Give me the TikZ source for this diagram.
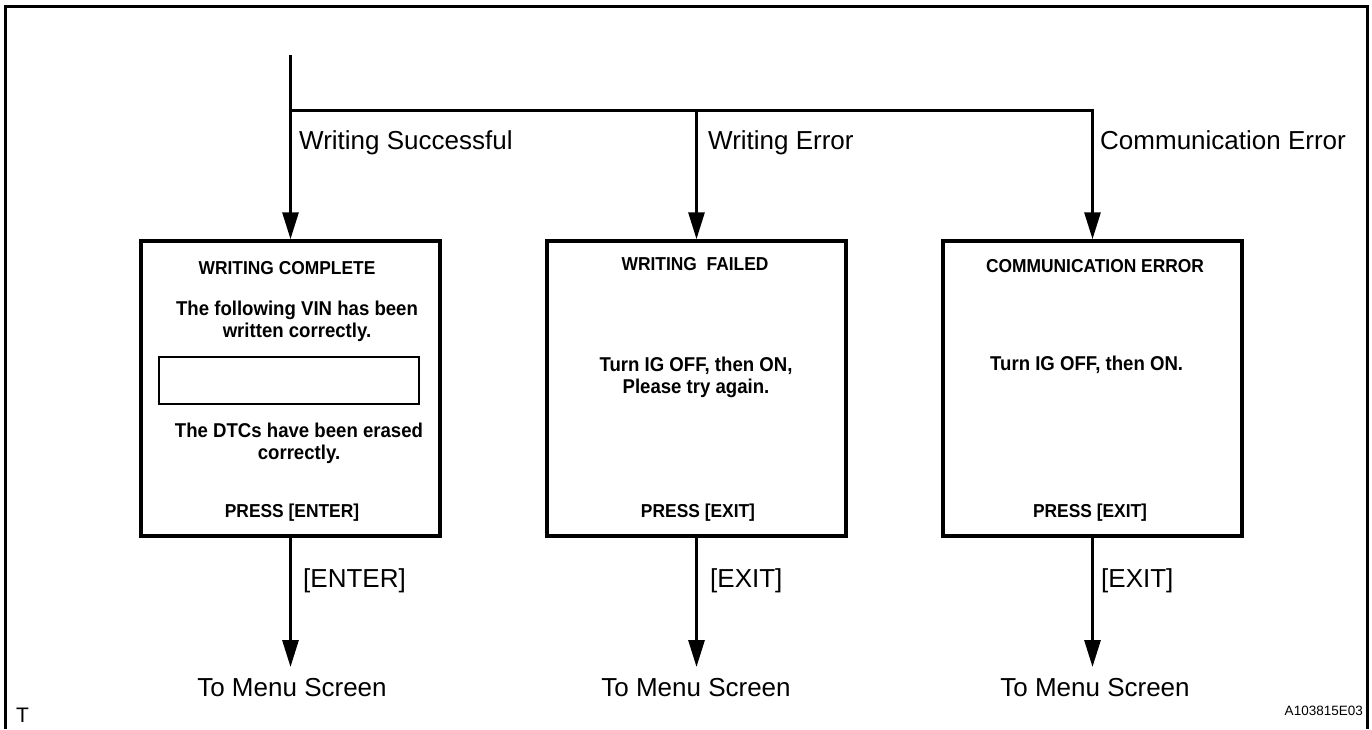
\documentclass[tikz,border=0pt]{standalone}
\usepackage{fontspec}
\setmainfont{Liberation Sans}
\newfontfamily\boxfont{Liberation Sans}[FakeStretch=0.93]
\usetikzlibrary{arrows.meta}
\tikzset{
  conn/.style={line width=3pt, -{Triangle[length=27pt,width=16pt]}},
  screen/.style={draw, line width=3.5pt, minimum width=299pt, minimum height=295pt, inner sep=0pt},
  vinbox/.style={draw, line width=2.5pt, minimum width=260pt, minimum height=47pt, inner sep=0pt},
  lbl/.style={font=\fontsize{26}{30}\selectfont, inner sep=0pt},
  ttl/.style={font=\boxfont\bfseries\fontsize{18.7}{22}\selectfont, inner sep=0pt},
  body/.style={font=\boxfont\bfseries\fontsize{20}{22}\selectfont, inner sep=0pt, align=center},
}
\begin{document}
\begin{tikzpicture}[x=1pt,y=-1pt]
\useasboundingbox (0,0) rectangle (1372,729);
% frame
\draw[line width=3pt] (5,729) -- (5,6) -- (1367,6) -- (1367,729);
% screens
\node[screen] (b1) at (290.5,388.5) {};
\node[screen] (b2) at (696.5,388.5) {};
\node[screen] (b3) at (1092.5,388.5) {};
% top
\coordinate (top) at (290.5,55);
\coordinate (j1) at (290.5,110);
\draw[conn] (top) -- (b1.north);
\draw[conn] (j1) -| (b3.north);
\draw[conn] (b2.north |- j1) -- (b2.north);
% branch labels
\node[lbl, anchor=base west] (l1) at (299,149) {Writing Successful};
\node[lbl, anchor=base west] (l2) at (708,149) {Writing Error};
\node[lbl, anchor=base west] (l3) at (1100,149) {Communication Error};
% screen 1
\node[ttl] (t1) at (287,268) {WRITING COMPLETE};
\node[body] (s1a) at (297,321) {The following VIN has been\\written correctly.};
\node[vinbox] (vin) at (289,380.5) {};
\node[body] (s1b) at (299,443) {The DTCs have been erased\\correctly.};
\node[ttl] (p1) at (292,513) {PRESS [ENTER]};
% screen 2
\node[ttl] (t2) at (695,264) {WRITING\ \ FAILED};
\node[body] (s2a) at (696,377) {Turn IG OFF, then ON,\\Please try again.};
\node[ttl] (p2) at (698,513) {PRESS [EXIT]};
% screen 3
\node[ttl] (t3) at (1095,266) {COMMUNICATION ERROR};
\node[body, anchor=west] (s3a) at (990,365) {Turn IG OFF, then ON.};
\node[ttl] (p3) at (1090,513) {PRESS [EXIT]};
% bottom
\node[lbl, anchor=north] (m1) at (292,678) {To Menu Screen};
\node[lbl, anchor=north] (m2) at (696,678) {To Menu Screen};
\node[lbl, anchor=north] (m3) at (1095,678) {To Menu Screen};
\draw[conn, shorten >=11pt] (b1.south) -- (b1.south |- m1.north);
\draw[conn, shorten >=11pt] (b2.south) -- (b2.south |- m2.north);
\draw[conn, shorten >=11pt] (b3.south) -- (b3.south |- m3.north);
\node[lbl, anchor=base west] (k1) at (303,587) {[ENTER]};
\node[lbl, anchor=base west] (k2) at (710,587) {[EXIT]};
\node[lbl, anchor=base west] (k3) at (1101,587) {[EXIT]};
% corner marks
\node[font=\fontsize{21}{24}\selectfont, inner sep=0pt, anchor=base west] (tm) at (16,722) {T};
\node[font=\fontsize{13.5}{16}\selectfont, inner sep=0pt, anchor=base east] (code) at (1363,715) {A103815E03};
\end{tikzpicture}
\end{document}
